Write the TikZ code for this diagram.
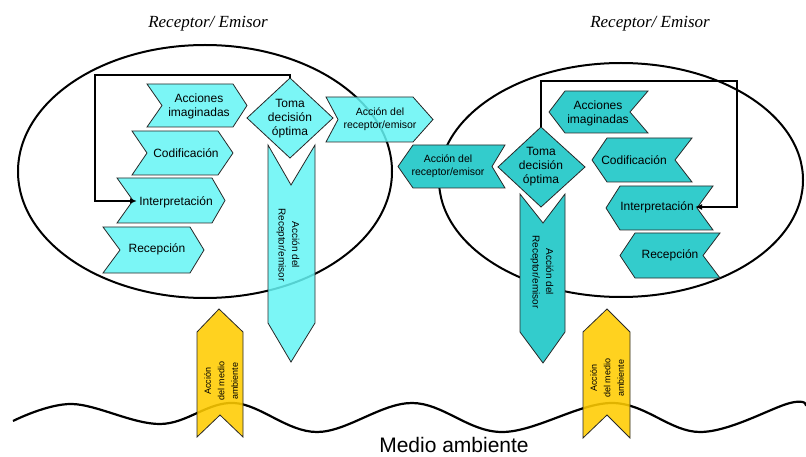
\documentclass[tikz,border=0pt]{standalone}
\usepackage{fontspec}
\setmainfont{Liberation Serif}
\newfontfamily\arialf{Liberation Sans}
\usetikzlibrary{arrows.meta}
\definecolor{lcyan}{RGB}{100,245,245}
\definecolor{dteal}{RGB}{51,204,204}
\definecolor{gold}{RGB}{255,204,0}
\definecolor{edge}{RGB}{40,40,40}

% chevron pointing east: style, left x, notch x, corner x, tip x, top y, bottom y
\newcommand\chevE[7]{\filldraw[#1] (#2,#6) -- (#4,#6) -- (#5,{(#6+#7)/2}) -- (#4,#7) -- (#2,#7) -- (#3,{(#6+#7)/2}) -- cycle;}
% chevron pointing west: style, tip x, corner x, notch x, right x, top y, bottom y
\newcommand\chevW[7]{\filldraw[#1] (#5,#6) -- (#3,#6) -- (#2,{(#6+#7)/2}) -- (#3,#7) -- (#5,#7) -- (#4,{(#6+#7)/2}) -- cycle;}

\begin{document}
\begin{tikzpicture}[x=1pt,y=-1pt,
  pale/.style={fill=lcyan,fill opacity=0.85,draw=edge,line width=0.8pt},
  tealshape/.style={fill=dteal,draw=edge,line width=0.8pt},
  goldshape/.style={fill=gold,fill opacity=0.88,draw=edge,line width=0.8pt},
  lbl/.style={font=\arialf\fontsize{12}{14}\selectfont,align=center,inner sep=0pt},
  sublbl/.style={font=\arialf\fontsize{10.5}{13}\selectfont,align=center,inner sep=0pt},
  vlbl/.style={font=\arialf\fontsize{10}{13.5}\selectfont,align=center,inner sep=0pt,rotate=-90},
  envlbl/.style={font=\arialf\fontsize{9}{13.5}\selectfont,align=center,inner sep=0pt,rotate=90},
  title/.style={font=\itshape\fontsize{17}{19}\selectfont,inner sep=0pt},
  fb/.style={line width=1.5pt,-{Latex[length=7pt,width=6pt]}},
  ring/.style={line width=2pt},
]
\useasboundingbox (0,0) rectangle (806,457);

% the two receptor/emitter areas
\draw[ring] (205,171.5) ellipse [x radius=187, y radius=126.5];
\draw[ring] (621,180) ellipse [x radius=182, y radius=117];

% surrounding environment
\draw[line width=2.2pt] plot[smooth,tension=0.6] coordinates {(13,421) (72,404) (160,424) (234,403) (317,432) (412,403) (502,432) (612,403) (700,432) (790,403) (806,406)};

% ---------- left agent ----------
\chevE{pale}{147}{162}{233}{247}{84}{127}
\chevE{pale}{132}{147}{218}{233}{131}{175}
\chevE{pale}{117}{133}{212}{225}{178}{223}
\chevE{pale}{103}{120}{190}{204}{227}{273}
\chevE{pale}{326}{338}{413}{433}{97}{142}
\filldraw[pale] (247,118) -- (290,78) -- (333,118) -- (290,158) -- cycle;
\filldraw[pale] (268,145) -- (291,185) -- (315,145) -- (315,323) -- (291,362) -- (268,323) -- cycle;

% ---------- right agent ----------
\chevW{tealshape}{398}{413}{492}{505}{145}{188}
\chevW{tealshape}{549}{565}{630}{648}{91}{133}
\chevW{tealshape}{592}{607}{675}{692}{138}{182}
\chevW{tealshape}{606}{620}{697}{713}{186}{230}
\chevW{tealshape}{620}{635}{703}{720}{233}{278}
\filldraw[tealshape] (498,167) -- (541,127) -- (585,167) -- (541,207) -- cycle;
\filldraw[tealshape] (520,194) -- (543,223) -- (565,194) -- (565,332) -- (543,363) -- (520,332) -- cycle;

% ---------- environment actions ----------
\filldraw[goldshape] (197,332) -- (219,309) -- (243,332) -- (243,437) -- (220,415) -- (197,437) -- cycle;
\filldraw[goldshape] (583,332) -- (607,309) -- (630,332) -- (630,438) -- (607,415) -- (583,438) -- cycle;

% ---------- labels ----------
\node[title] (titL) at (208,24) {Receptor/ Emisor};
\node[title] (titR) at (650,24) {Receptor/ Emisor};

\node[lbl] (accL) at (199,106) {Acciones\\imaginadas};
\node[lbl] (codL) at (186,153) {Codificación};
\node[lbl] (intL) at (176,202) {Interpretación};
\node[lbl] (recL) at (157,249) {Recepción};
\node[lbl] (decL) at (290,119) {Toma\\decisión\\óptima};
\node[sublbl] (actL) at (380,119.5) {Acción del\\receptor/emisor};
\node[vlbl] (vactL) at (288,245) {Acción del\\Receptor/emisor};

\node[lbl] (accR) at (598,113) {Acciones\\imaginadas};
\node[lbl] (codR) at (634,160) {Codificación};
\node[lbl] (intR) at (657,207) {Interpretación};
\node[lbl] (recR) at (670,255) {Recepción};
\node[lbl] (decR) at (541,167) {Toma\\decisión\\óptima};
\node[sublbl] (actR) at (448,166) {Acción del\\receptor/emisor};
\node[vlbl] (vactR) at (542,272) {Acción del\\Receptor/emisor};

\node[envlbl] (envL) at (221,381) {Acción\\del medio\\ambiente};
\node[envlbl] (envR) at (607,378) {Acción\\del medio\\ambiente};

\node[font=\arialf\fontsize{21}{23}\selectfont,inner sep=0pt,anchor=base] (env) at (454,452.5) {Medio ambiente};

% ---------- feedback loops ----------
\coordinate (decLtop) at (290,78);
\coordinate (fbL) at (95,75);
\coordinate (intLin) at (137,201);
\draw[fb] (decLtop) |- (fbL) |- (intLin);

\coordinate (decRtop) at (541,127);
\coordinate (fbR) at (737,81);
\coordinate (intRin) at (695,207);
\draw[fb] (decRtop) |- (fbR) |- (intRin);
\end{tikzpicture}
\end{document}
